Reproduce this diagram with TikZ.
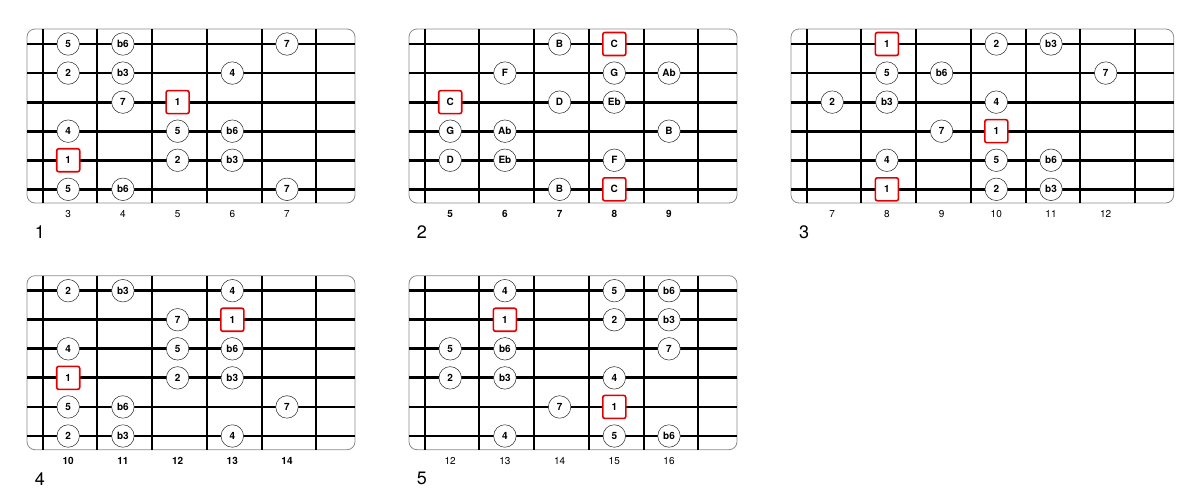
\documentclass[tikz,border=0pt]{standalone}
\usepackage{fontspec}
\setmainfont{TeX Gyre Heros}
\usepackage{tikz}
\usetikzlibrary{positioning}

\begin{document}
\begin{tikzpicture}[
    x=1pt, y=-1pt,
    board/.style={draw=black!45, line width=0.8pt, rounded corners=8pt, fill=white},
    fretline/.style={line width=2pt},
    stringline/.style={line width=2.8pt},
    note/.style={circle, draw=black!85, line width=0.5pt, fill=white, minimum size=22.5pt, inner sep=0pt, font=\fontsize{10}{11}\selectfont\bfseries},
    root/.style={rectangle, draw=red!90!black, line width=1.6pt, rounded corners=2pt, fill=white, minimum size=23pt, inner sep=0pt, font=\fontsize{10}{11}\selectfont\bfseries},
    fretnum/.style={font=\fontsize{10}{11}\selectfont},
    fretbold/.style={font=\fontsize{10}{11}\selectfont\bfseries},
    boardnum/.style={font=\fontsize{18}{20}\selectfont}
]
\useasboundingbox (0,0) rectangle (1200,493);

% fretboards: number / left / top / first fret / frets / label style
\foreach \p/\ox/\oy/\fa/\nf/\fs in {1/27/29/3/5/fretnum, 2/409/29/5/5/fretbold, 3/791/29/7/6/fretnum, 4/27/275.7/10/5/fretbold, 5/409/275.7/12/5/fretnum} {
    \pgfmathsetmacro\bw{328+54.7*(\nf-5)}
    \draw[board] (\ox,\oy) rectangle ++(\bw,174);
    \foreach \k in {0,...,\nf}
        \draw[fretline] (\ox+15.7+54.7*\k,\oy) -- ++(0,174);
    \foreach \s in {0,...,5}
        \draw[stringline] (\ox,\oy+15+29.06*\s) -- ++(\bw,0);
    \foreach \k in {1,...,\nf} {
        \pgfmathtruncatemacro\num{\fa+\k-1}
        \node[\fs] (fret\p-\num) at (\ox+41.2+54.7*\k-54.7,\oy+185) {\num};
    }
    \node[boardnum] (board\p) at (\ox+13,\oy+203) {\p};
}

% position 1, frets 3-7
\begin{scope}[shift={(27,29)}]
\foreach \s/\f/\t/\k in {1/3/5/note, 1/4/b6/note, 1/7/7/note,
    2/3/2/note, 2/4/b3/note, 2/6/4/note,
    3/4/7/note, 3/5/1/root,
    4/3/4/note, 4/5/5/note, 4/6/b6/note,
    5/3/1/root, 5/5/2/note, 5/6/b3/note,
    6/3/5/note, 6/4/b6/note, 6/7/7/note}
    \node[\k] (n1-\s-\f) at ({41.2+54.7*(\f-3)},{15+29.06*(\s-1)}) {\t};
\end{scope}

% position 2, frets 5-9 (note names)
\begin{scope}[shift={(409,29)}]
\foreach \s/\f/\t/\k in {1/7/B/note, 1/8/C/root,
    2/6/F/note, 2/8/G/note, 2/9/Ab/note,
    3/5/C/root, 3/7/D/note, 3/8/Eb/note,
    4/5/G/note, 4/6/Ab/note, 4/9/B/note,
    5/5/D/note, 5/6/Eb/note, 5/8/F/note,
    6/7/B/note, 6/8/C/root}
    \node[\k] (n2-\s-\f) at ({41.2+54.7*(\f-5)},{15+29.06*(\s-1)}) {\t};
\end{scope}

% position 3, frets 7-12
\begin{scope}[shift={(791,29)}]
\foreach \s/\f/\t/\k in {1/8/1/root, 1/10/2/note, 1/11/b3/note,
    2/8/5/note, 2/9/b6/note, 2/12/7/note,
    3/7/2/note, 3/8/b3/note, 3/10/4/note,
    4/9/7/note, 4/10/1/root,
    5/8/4/note, 5/10/5/note, 5/11/b6/note,
    6/8/1/root, 6/10/2/note, 6/11/b3/note}
    \node[\k] (n3-\s-\f) at ({41.2+54.7*(\f-7)},{15+29.06*(\s-1)}) {\t};
\end{scope}

% position 4, frets 10-14
\begin{scope}[shift={(27,275.7)}]
\foreach \s/\f/\t/\k in {1/10/2/note, 1/11/b3/note, 1/13/4/note,
    2/12/7/note, 2/13/1/root,
    3/10/4/note, 3/12/5/note, 3/13/b6/note,
    4/10/1/root, 4/12/2/note, 4/13/b3/note,
    5/10/5/note, 5/11/b6/note, 5/14/7/note,
    6/10/2/note, 6/11/b3/note, 6/13/4/note}
    \node[\k] (n4-\s-\f) at ({41.2+54.7*(\f-10)},{15+29.06*(\s-1)}) {\t};
\end{scope}

% position 5, frets 12-16
\begin{scope}[shift={(409,275.7)}]
\foreach \s/\f/\t/\k in {1/13/4/note, 1/15/5/note, 1/16/b6/note,
    2/13/1/root, 2/15/2/note, 2/16/b3/note,
    3/12/5/note, 3/13/b6/note, 3/16/7/note,
    4/12/2/note, 4/13/b3/note, 4/15/4/note,
    5/14/7/note, 5/15/1/root,
    6/13/4/note, 6/15/5/note, 6/16/b6/note}
    \node[\k] (n5-\s-\f) at ({41.2+54.7*(\f-12)},{15+29.06*(\s-1)}) {\t};
\end{scope}

\end{tikzpicture}
\end{document}
